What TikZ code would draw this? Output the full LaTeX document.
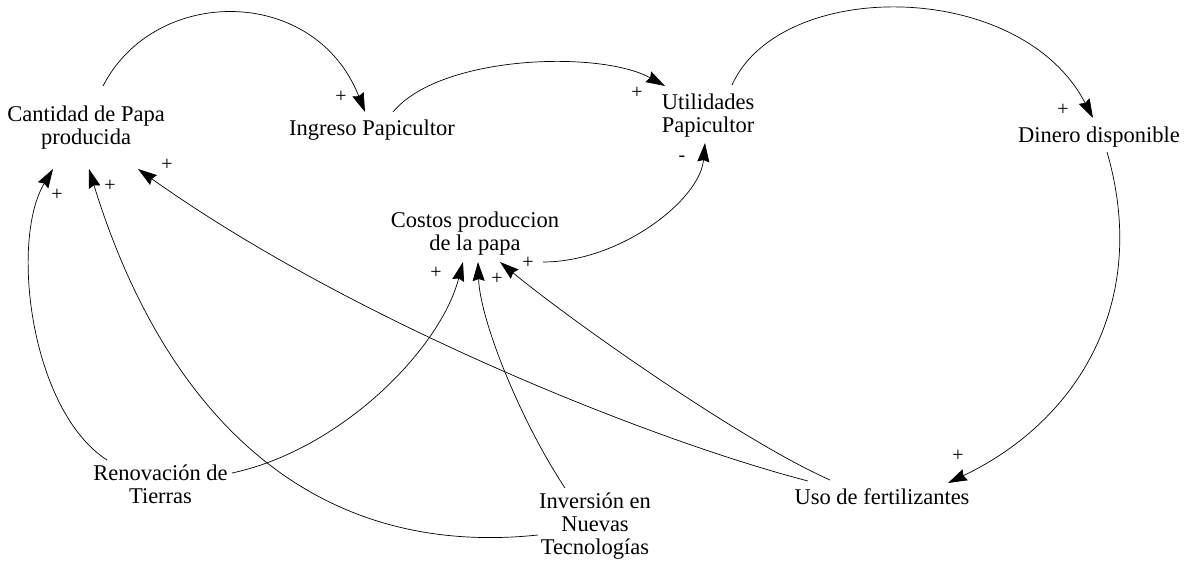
\documentclass[tikz,border=0pt]{standalone}
\usepackage{fontspec}
\setmainfont{Liberation Serif}
\usepackage{tikz}
\usetikzlibrary{calc,arrows.meta}

\begin{document}
\begin{tikzpicture}[
        x=1pt, y=1pt,
        var/.style={align=center, inner sep=0pt, font=\fontsize{22.5}{23}\selectfont},
        pol/.style={inner sep=0pt, font=\fontsize{20}{20}\selectfont},
        link/.style={line width=0.7pt, -{Stealth[length=19pt, width=12pt, inset=2pt]}}
    ]
    \useasboundingbox (0,0) rectangle (1189,-560);

    % Variables
    \node[var] (cant) at (86,-128) {Cantidad de Papa\\producida};
    \node[var] (ing) at (372,-130) {Ingreso Papicultor};
    \node[var] (util) at (708,-115.5) {Utilidades\\Papicultor};
    \node[var] (din) at (1099,-137) {Dinero disponible};
    \node[var] (cost) at (475,-233.5) {Costos produccion\\de la papa};
    \node[var] (ren) at (160.5,-484.5) {Renovación de\\Tierras};
    \node[var] (inv) at (595,-526.5) {Inversión en\\Nuevas\\Tecnologías};
    \node[var] (uso) at (882,-497) {Uso de fertilizantes};

    % Upper loop
    \draw[link] ($(cant)+(17,42)$) .. controls +(52,101) and +(-50,127) .. ($(ing)+(-7,18)$);
    \draw[link] ($(ing)+(21,18)$) .. controls +(47,57) and +(-65,36) .. ($(util)+(-43,29.5)$);
    \draw[link] ($(util)+(24,30.5)$) .. controls +(48,107) and +(-73,140) .. ($(din)+(-6,19)$);
    \draw[link] ($(din)+(8,-15)$) .. controls +(43,-148) and +(132,63) .. ($(uso)+(66,14)$);
    \draw[link] ($(cost)+(68,-28.5)$) .. controls +(77,0) and +(-5,-57) .. ($(util)+(-3,-27.5)$);

    % Links into Cantidad de Papa
    \draw[link] ($(ren)+(-53.5,24.5)$) .. controls +(-77,50) and +(-43,-71) .. ($(cant)+(-33,-41)$);
    \draw[link] ($(inv)+(-57,-8.5)$) .. controls +(-238,-25) and +(71,-231) .. ($(cant)+(3,-41)$);
    \draw[link] ($(uso)+(-74,16)$) .. controls +(-158,41) and +(212,-151) .. ($(cant)+(52,-41)$);

    % Links into Costos produccion
    \draw[link] ($(ren)+(71.5,11.5)$) .. controls +(108,23) and +(-23,-88) .. ($(cost)+(-12,-28.5)$);
    \draw[link] ($(inv)+(-30,38.5)$) .. controls +(-45,68) and +(2,-58) .. ($(cost)+(3,-28.5)$);
    \draw[link] ($(uso)+(-52,17)$) .. controls +(-90,40) and +(70,-58) .. ($(cost)+(25,-28.5)$);

    % Polarities
    \node[pol] (s1) at (341,-97) {+};
    \node[pol] (s2) at (637,-93) {+};
    \node[pol] (s3) at (1063,-110) {+};
    \node[pol] (s4) at (958,-456) {+};
    \node[pol] (s5) at (682,-159) {-};
    \node[pol] (s6) at (57,-195) {+};
    \node[pol] (s7) at (110,-186) {+};
    \node[pol] (s8) at (167,-165) {+};
    \node[pol] (s9) at (436,-273) {+};
    \node[pol] (s10) at (497,-279) {+};
    \node[pol] (s11) at (528,-263) {+};

\end{tikzpicture}
\end{document}
